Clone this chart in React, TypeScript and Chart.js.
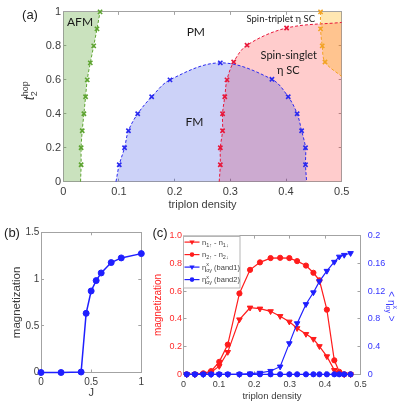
import React, { useEffect, useRef } from 'react';
import { Chart, registerables } from 'chart.js';

Chart.register(...registerables);

// ---------------- Panel (a): phase diagram (triplon density vs t2_hop) ----------------
const afmBoundaryX = [0.031, 0.032, 0.032, 0.034, 0.037, 0.040, 0.043, 0.0485, 0.0546, 0.0605, 0.066];
const afmBoundaryY = [0, 0.1, 0.2, 0.3, 0.4, 0.5, 0.6, 0.7, 0.8, 0.9, 1.0];
const fmBoundaryX = [0.0946, 0.1005, 0.110, 0.117, 0.1336, 0.1587, 0.1916, 0.282, 0.3747, 0.404, 0.42, 0.428, 0.435, 0.435, 0.437];
const fmBoundaryY = [0, 0.1, 0.2, 0.3, 0.4, 0.5, 0.6, 0.7, 0.603, 0.5, 0.4, 0.3, 0.2, 0.1, 0];
const singletBoundaryX = [0.280, 0.282, 0.282, 0.286, 0.286, 0.290, 0.294, 0.306, 0.330, 0.401, 0.5];
const singletBoundaryY = [0, 0.1, 0.2, 0.3, 0.4, 0.5, 0.6, 0.705, 0.804, 0.905, 0.938];
const tripletBoundaryX = [0.462, 0.462, 0.465, 0.470, 0.5];
const tripletBoundaryY = [1.0, 0.9, 0.8, 0.705, 0.62];
const aXTickLabels = ['0', '0.1', '0.2', '0.3', '0.4', '0.5'];
const aYTickLabels = ['0', '0.2', '0.4', '0.6', '0.8', '1'];

// ---------------- Panel (b): magnetization vs J ----------------
const jValues = [0, 0.2, 0.4, 0.45, 0.5, 0.55, 0.6, 0.7, 0.8, 1.0];
const bMagnetization = [0, 0, 0.005, 0.633, 0.872, 0.983, 1.065, 1.176, 1.226, 1.272];
const bXTickLabels = ['0', '0.5', '1'];
const bYTickLabels = ['0', '0.5', '1', '1.5'];

// ---------------- Panel (c): magnetization and <eta> vs triplon density ----------------
const triplonDensity = [0.009, 0.032, 0.056, 0.078, 0.101, 0.125, 0.158, 0.188, 0.216, 0.246, 0.273, 0.299, 0.321, 0.346, 0.367, 0.384, 0.405, 0.426, 0.44, 0.454, 0.472];
const n1Diff = [0, 0, 0.003, 0.015, 0.059, 0.16, 0.395, 0.48, 0.473, 0.454, 0.419, 0.379, 0.332, 0.29, 0.254, 0.202, 0.129, 0.03, 0.007, 0, 0];
const n2Diff = [0, 0, 0.007, 0.023, 0.09, 0.214, 0.583, 0.753, 0.807, 0.838, 0.84, 0.838, 0.816, 0.784, 0.732, 0.678, 0.466, 0.101, 0.018, 0, 0];
const etaBand1 = [0, 0, 0, 0, 0, 0, 0, 0.001, 0.002, 0.0047, 0.011, 0.0446, 0.0734, 0.101, 0.118, 0.134, 0.149, 0.162, 0.1695, 0.172, 0.1746];
const etaBand2 = [0, 0, 0, 0, 0, 0, 0, 0, 0, 0, 0, 0, 0, 0, 0, 0, 0, 0, 0, 0, 0];
const cXTickLabels = ['0', '0.1', '0.2', '0.3', '0.4', '0.5'];
const cLeftTickLabels = ['0', '0.2', '0.4', '0.6', '0.8', '1.0'];
const cRightTickLabels = ['0', '0.4', '0.8', '0.12', '0.16', '0.2'];

// ---------------- styles ----------------
const AX = "'Liberation Sans', Arial, sans-serif";
const LBL = "Lato, 'Open Sans', sans-serif";
const FRAME = '#a3a3a3';
const TXT = '#3c3c3c';
const GREEN = '#5ea431';
const BLUE_B = '#2a2af0';
const RED_B = '#e8173a';
const ORANGE = '#f2a323';
const RED = '#ff1c1c';
const BLUE = '#1f1fff';

const pts = (xs: number[], ys: number[]) => xs.map((x, i) => ({ x, y: ys[i] }));

function mainAxis(position: string, min: number, max: number, step: number, labels: string[], o: any) {
  const horizontal = position === 'top' || position === 'bottom';
  return {
    type: 'linear',
    position,
    min,
    max,
    ticks: {
      stepSize: step,
      padding: o.pad,
      color: o.color,
      font: { family: AX, size: o.size },
      maxRotation: 0,
      autoSkip: false,
      callback: (v: number, i: number) => (labels[i] !== undefined ? labels[i] : String(v)),
    },
    grid: { drawOnChartArea: false, tickLength: -3, color: FRAME, lineWidth: 1 },
    border: { display: true, color: FRAME, width: 1 },
    title: o.title
      ? {
          display: true,
          text: o.title.text,
          color: o.title.color,
          font: { family: AX, size: o.title.size },
          padding: { top: o.title.pad, bottom: 0 },
        }
      : { display: false },
    afterFit: horizontal
      ? (s: any) => {
          s.height = o.thick;
        }
      : (s: any) => {
          s.width = o.thick;
        },
  };
}

function frameAxis(position: string, min: number, max: number, step: number) {
  return {
    type: 'linear',
    position,
    min,
    max,
    ticks: { stepSize: step, display: false },
    grid: { drawOnChartArea: false, tickLength: -3, color: FRAME, lineWidth: 1 },
    border: { display: true, color: FRAME, width: 1 },
    afterFit:
      position === 'top'
        ? (s: any) => {
            s.height = 0;
          }
        : (s: any) => {
            s.width = 0;
          },
  };
}

type Piece = { t: string; size: number; italic?: boolean; up?: string; down?: string; upDy?: number; downDy?: number };

function drawRich(ctx: CanvasRenderingContext2D, pieces: Piece[], cx: number, cy: number, angle: number, color: string, family: string, baseShift: number, align: 'center' | 'left') {
  ctx.save();
  ctx.translate(cx, cy);
  ctx.rotate(angle);
  ctx.fillStyle = color;
  ctx.textBaseline = 'alphabetic';
  ctx.textAlign = 'left';
  const fontOf = (p: Piece) => `${p.italic ? 'italic ' : ''}${p.size}px ${family}`;
  const widths = pieces.map((p) => {
    ctx.font = fontOf(p);
    if (p.up !== undefined || p.down !== undefined) {
      return Math.max(ctx.measureText(p.up || '').width, ctx.measureText(p.down || '').width);
    }
    return ctx.measureText(p.t).width;
  });
  const total = widths.reduce((a, b) => a + b, 0);
  let x = align === 'center' ? -total / 2 : 0;
  pieces.forEach((p, i) => {
    ctx.font = fontOf(p);
    if (p.up !== undefined || p.down !== undefined) {
      if (p.up) ctx.fillText(p.up, x, baseShift + (p.upDy || 0));
      if (p.down) ctx.fillText(p.down, x, baseShift + (p.downDy || 0));
    } else {
      ctx.fillText(p.t, x, baseShift);
    }
    x += widths[i];
  });
  ctx.restore();
}

const boundaryMarker = (c: any) => {
  const p = c.raw;
  return p && (p.y === 0 || p.x === 0.5) ? 0 : 3;
};

function boundary(data: any[], color: string, fillColor: string, fill: any, extra: any = {}) {
  return {
    data,
    fill,
    backgroundColor: fillColor,
    borderColor: color,
    borderWidth: 1,
    borderDash: [3, 2],
    tension: 0.35,
    pointStyle: 'crossRot',
    pointRadius: boundaryMarker,
    pointBorderColor: color,
    pointBackgroundColor: color,
    pointBorderWidth: 1.6,
    clip: false,
    xAxisID: 'x',
    yAxisID: 'y',
    ...extra,
  };
}

const panelAText = {
  id: 'panelAText',
  afterDraw(chart: any) {
    const { ctx, scales, chartArea: ca } = chart;
    const X = (v: number) => scales.x.getPixelForValue(v);
    const Y = (v: number) => scales.y.getPixelForValue(v);
    ctx.save();
    ctx.fillStyle = '#1a1a1a';
    ctx.textAlign = 'center';
    ctx.textBaseline = 'middle';
    ctx.font = `12px ${LBL}`;
    ctx.fillText('AFM', X(0.03), Y(0.942));
    ctx.fillText('PM', X(0.238), Y(0.878));
    ctx.fillText('FM', X(0.2355), Y(0.351));
    ctx.font = `11px ${LBL}`;
    ctx.fillText('Spin-singlet', X(0.405), Y(0.744));
    ctx.fillText('η SC', X(0.404), Y(0.655));
    ctx.font = `9.5px ${LBL}`;
    ctx.fillText('Spin-triplet η SC', X(0.3905), Y(0.959));
    ctx.fillStyle = '#222';
    ctx.font = `13px ${AX}`;
    ctx.fillText('(a)', 30, 15);
    ctx.restore();
    drawRich(
      ctx,
      [
        { t: 't', size: 14, italic: true },
        { t: '', size: 9, up: 'hop', down: '2', upDy: -6.5, downDy: 3 },
      ],
      ca.left - 33,
      (ca.top + ca.bottom) / 2 - 6,
      -Math.PI / 2,
      TXT,
      AX,
      4,
      'center'
    );
  },
};

const panelBText = {
  id: 'panelBText',
  afterDraw(chart: any) {
    const { ctx } = chart;
    ctx.save();
    ctx.fillStyle = '#222';
    ctx.textAlign = 'center';
    ctx.textBaseline = 'middle';
    ctx.font = `13px ${AX}`;
    ctx.fillText('(b)', 12, 13);
    ctx.restore();
  },
};

function triDown(ctx: CanvasRenderingContext2D, x: number, y: number, r: number) {
  ctx.beginPath();
  ctx.moveTo(x - r * 0.87, y - r * 0.5);
  ctx.lineTo(x + r * 0.87, y - r * 0.5);
  ctx.lineTo(x, y + r);
  ctx.closePath();
  ctx.fill();
}

const panelCText = {
  id: 'panelCText',
  afterDraw(chart: any) {
    const { ctx, chartArea: ca } = chart;
    ctx.save();
    ctx.fillStyle = '#222';
    ctx.textAlign = 'center';
    ctx.textBaseline = 'middle';
    ctx.font = `13px ${AX}`;
    ctx.fillText('(c)', 10, 13);
    ctx.restore();

    // right axis title  < eta^x_oy >
    drawRich(
      ctx,
      [
        { t: '< η', size: 10 },
        { t: '', size: 7, up: 'x', down: 'oy', upDy: -4.5, downDy: 2.5 },
        { t: ' >', size: 10 },
      ],
      ca.right + 31,
      (ca.top + ca.bottom) / 2 + 1.5,
      Math.PI / 2,
      '#3b3bff',
      AX,
      3.5,
      'center'
    );

    // legend
    const L = ca.left - 0.5;
    const T = ca.top;
    const W = 56.5;
    const H = 51.5;
    ctx.save();
    ctx.fillStyle = '#ffffff';
    ctx.fillRect(L, T, W, H);
    ctx.strokeStyle = '#b5b5b5';
    ctx.lineWidth = 1;
    ctx.strokeRect(Math.round(L) + 0.5, Math.round(T) + 0.5, W, H);
    const rows = [
      { color: RED, tri: true, pieces: [{ t: 'n', size: 7.5 }, { t: '', size: 5.5, down: '1↑', downDy: 2 }, { t: ' - n', size: 7.5 }, { t: '', size: 5.5, down: '1↓', downDy: 2 }] },
      { color: RED, tri: false, pieces: [{ t: 'n', size: 7.5 }, { t: '', size: 5.5, down: '2↑', downDy: 2 }, { t: ' - n', size: 7.5 }, { t: '', size: 5.5, down: '2↓', downDy: 2 }] },
      { color: BLUE, tri: true, pieces: [{ t: 'η', size: 7.5 }, { t: '', size: 5.5, up: 'x', down: 'oy', upDy: -3.5, downDy: 2 }, { t: ' (band1)', size: 7.5 }] },
      { color: BLUE, tri: false, pieces: [{ t: 'η', size: 7.5 }, { t: '', size: 5.5, up: 'x', down: 'oy', upDy: -3.5, downDy: 2 }, { t: ' (band2)', size: 7.5 }] },
    ];
    rows.forEach((r, i) => {
      const yy = T + 6.5 + i * 12.5;
      ctx.strokeStyle = r.color;
      ctx.fillStyle = r.color;
      ctx.lineWidth = 1.2;
      ctx.beginPath();
      ctx.moveTo(L + 1.5, yy);
      ctx.lineTo(L + 16.5, yy);
      ctx.stroke();
      if (r.tri) {
        triDown(ctx, L + 9, yy, 3);
      } else {
        ctx.beginPath();
        ctx.arc(L + 9, yy, 2.3, 0, Math.PI * 2);
        ctx.fill();
      }
      drawRich(ctx, r.pieces as Piece[], L + 19, yy, 0, '#444', AX, 2.6, 'left');
    });
    ctx.restore();
  },
};

function configA(): any {
  return {
    type: 'line',
    data: {
      datasets: [
        boundary(pts(afmBoundaryX, afmBoundaryY), GREEN, 'rgba(80,160,40,0.3)', 'origin', { indexAxis: 'y', label: 'AFM' }),
        boundary(pts(tripletBoundaryX, tripletBoundaryY), ORANGE, 'rgba(255,175,0,0.3)', 'end', { label: 'triplet' }),
        boundary(pts(fmBoundaryX, fmBoundaryY), BLUE_B, 'rgba(0,30,220,0.2)', 'origin', { label: 'FM' }),
        boundary(pts(singletBoundaryX, singletBoundaryY), RED_B, 'rgba(255,0,0,0.2)', 'origin', { label: 'singlet' }),
      ],
    },
    options: {
      animation: false,
      responsive: false,
      devicePixelRatio: 1,
      events: [],
      layout: { padding: { left: 0, right: 57.3, top: 10, bottom: 3.4 } },
      plugins: {
        legend: { display: false },
        tooltip: { enabled: false },
        filler: { drawTime: 'beforeDatasetsDraw' },
      },
      scales: {
        x: mainAxis('bottom', 0, 0.5, 0.1, aXTickLabels, {
          size: 11, color: TXT, pad: 6.4, thick: 29.9,
          title: { text: 'triplon density', size: 11, color: TXT, pad: 0 },
        }),
        y: mainAxis('left', 0, 1, 0.2, aYTickLabels, { size: 11, color: TXT, pad: 5.3, thick: 63.3 }),
        x2: frameAxis('top', 0, 0.5, 0.1),
        y2: frameAxis('right', 0, 1, 0.2),
      },
    },
    plugins: [panelAText],
  };
}

function configB(): any {
  return {
    type: 'line',
    data: {
      datasets: [
        {
          label: 'magnetization',
          data: pts(jValues, bMagnetization),
          borderColor: BLUE,
          backgroundColor: BLUE,
          borderWidth: 1.5,
          pointRadius: 3,
          pointBackgroundColor: BLUE,
          pointBorderColor: BLUE,
          pointBorderWidth: 1,
          tension: 0,
          clip: false,
          xAxisID: 'x',
          yAxisID: 'y',
        },
      ],
    },
    options: {
      animation: false,
      responsive: false,
      devicePixelRatio: 1,
      events: [],
      layout: { padding: { left: 0, right: 38.7, top: 12.3, bottom: 10.1 } },
      plugins: { legend: { display: false }, tooltip: { enabled: false } },
      scales: {
        x: mainAxis('bottom', 0, 1, 0.5, bXTickLabels, {
          size: 10, color: TXT, pad: 7.2, thick: 27.4,
          title: { text: 'J', size: 11, color: TXT, pad: 0 },
        }),
        y: mainAxis('left', 0, 1.5, 0.5, bYTickLabels, {
          size: 10, color: TXT, pad: 4.7, thick: 41,
          title: { text: 'magnetization', size: 11.5, color: TXT, pad: 10.4 },
        }),
        x2: frameAxis('top', 0, 1, 0.5),
        y2: frameAxis('right', 0, 1.5, 0.5),
      },
    },
    plugins: [panelBText],
  };
}

function series(data: number[], color: string, tri: boolean, axis: string, label: string) {
  return {
    label,
    data: pts(triplonDensity, data),
    borderColor: color,
    backgroundColor: color,
    borderWidth: 1.2,
    pointStyle: tri ? 'triangle' : 'circle',
    pointRotation: tri ? 180 : 0,
    pointRadius: tri ? 3.2 : 2.6,
    pointBackgroundColor: color,
    pointBorderColor: color,
    pointBorderWidth: 1,
    tension: 0,
    clip: false,
    xAxisID: 'x',
    yAxisID: axis,
  };
}

function configC(): any {
  return {
    type: 'line',
    data: {
      datasets: [
        series(etaBand2, BLUE, false, 'y1', 'eta band2'),
        series(etaBand1, BLUE, true, 'y1', 'eta band1'),
        series(n2Diff, RED, false, 'y', 'n2'),
        series(n1Diff, RED, true, 'y', 'n1'),
      ],
    },
    options: {
      animation: false,
      responsive: false,
      devicePixelRatio: 1,
      events: [],
      layout: { padding: { left: 0, right: 0, top: 12.7, bottom: 8.3 } },
      plugins: { legend: { display: false }, tooltip: { enabled: false } },
      scales: {
        x: mainAxis('bottom', 0, 0.5, 0.1, cXTickLabels, {
          size: 9, color: TXT, pad: 8.3, thick: 27.4,
          title: { text: 'triplon density', size: 9.6, color: TXT, pad: 0 },
        }),
        y: mainAxis('left', 0, 1, 0.2, cLeftTickLabels, {
          size: 9, color: '#ff2a2a', pad: 4.5, thick: 33.5,
          title: { text: 'magnetization', size: 10, color: '#ff2020', pad: 2 },
        }),
        y1: mainAxis('right', 0, 0.2, 0.04, cRightTickLabels, { size: 9, color: '#3535ff', pad: 10.2, thick: 38.5 }),
        x2: frameAxis('top', 0, 0.5, 0.1),
      },
    },
    plugins: [panelCText],
  };
}

export default function App() {
  const aRef = useRef<HTMLCanvasElement>(null);
  const bRef = useRef<HTMLCanvasElement>(null);
  const cRef = useRef<HTMLCanvasElement>(null);

  useEffect(() => {
    const charts = [
      new Chart(aRef.current as HTMLCanvasElement, configA()),
      new Chart(bRef.current as HTMLCanvasElement, configB()),
      new Chart(cRef.current as HTMLCanvasElement, configC()),
    ];
    return () => charts.forEach((ch) => ch.destroy());
  }, []);

  return (
    <div style={{ position: 'absolute', left: 0, top: 0, width: 399, height: 410, background: '#ffffff', overflow: 'hidden' }}>
      <canvas ref={aRef} width={399} height={215} style={{ position: 'absolute', left: 0, top: 0, width: 399, height: 215 }} />
      <canvas ref={bRef} width={180} height={190} style={{ position: 'absolute', left: 0, top: 220, width: 180, height: 190 }} />
      <canvas ref={cRef} width={249} height={190} style={{ position: 'absolute', left: 150, top: 220, width: 249, height: 190 }} />
    </div>
  );
}
